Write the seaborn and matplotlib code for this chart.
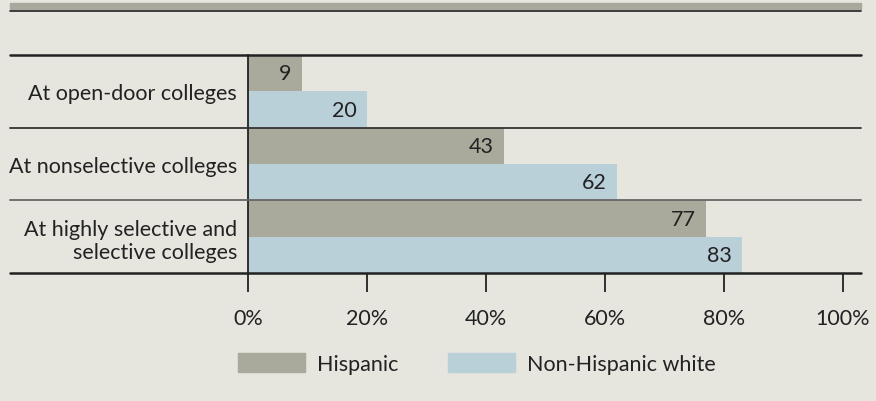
import pandas as pd
import matplotlib
matplotlib.use("Agg")
import matplotlib.pyplot as plt
import matplotlib.patches as mpatches
import seaborn as sns

# data
categories = ["At open-door colleges", "At nonselective colleges",
              "At highly selective and\nselective colleges"]
hispanic = [9, 43, 77]
nonhispanic_white = [20, 62, 83]
groups = ["Hispanic", "Non-Hispanic white"]
xticks = [0, 20, 40, 60, 80, 100]

bg = "#e6e5de"
colors = {"Hispanic": "#a9a99c", "Non-Hispanic white": "#b9d0d8"}
ink = "#222222"

df = pd.DataFrame({
    "category": categories * 2,
    "group": [groups[0]] * 3 + [groups[1]] * 3,
    "value": hispanic + nonhispanic_white,
})

sns.set_theme(style="white")
plt.rcParams["font.family"] = ["Lato", "DejaVu Sans"]

W, H = 876, 402
fig = plt.figure(figsize=(W / 100, H / 100), dpi=100, facecolor=bg)

# plot area in pixels (0% at x=248, 100% at x=843)
x0, x1, y0, y1 = 248, 861, 56, 274
ax = fig.add_axes([x0 / W, 1 - y1 / H, (x1 - x0) / W, (y1 - y0) / H])
ax.set_facecolor(bg)

sns.barplot(data=df, y="category", x="value", hue="group", orient="h",
            palette=colors, width=1.0, saturation=1, linewidth=0,
            edgecolor="none", ax=ax, legend=False)

scale = (843 - 248) / 100
ax.set_xlim(0, (x1 - x0) / scale)
ax.set_ylim(2.5, -0.5)

# value labels inside bar ends
for cont in ax.containers:
    ax.bar_label(cont, labels=[f"{v:g}" for v in cont.datavalues],
                 padding=-7.5, fontsize=15.5, color=ink)
for t in ax.texts:
    t.set_ha("right")

# separators spanning the label column
ext = (10 - x0) / (x1 - x0)
for yv, col, lw in [(-0.5, ink, 1.8), (0.5, "#333333", 1.3),
                    (1.5, "#666666", 1.3), (2.5, ink, 1.8)]:
    ax.plot([ext, 1], [yv, yv], transform=ax.get_yaxis_transform(),
            color=col, lw=lw, clip_on=False, zorder=5)

for s in ["top", "right", "bottom"]:
    ax.spines[s].set_visible(False)
ax.spines["left"].set_color(ink)
ax.spines["left"].set_linewidth(1.3)

ax.set_xticks(xticks)
ax.set_xticklabels([f"{v}%" for v in xticks], fontsize=15.5, color=ink)
ax.tick_params(axis="x", direction="out", length=14, width=1.3,
               color=ink, pad=11, bottom=True)
ax.set_yticks(range(len(categories)))
ax.set_yticklabels(categories, fontsize=15.5, color=ink)
ax.tick_params(axis="y", length=0, pad=8)
ax.set_xlabel("")
ax.set_ylabel("")

# top banner band and rule
fig.patches.append(mpatches.Rectangle((10 / W, 1 - 10 / H), (861 - 10) / W, 6 / H,
                                      transform=fig.transFigure,
                                      color="#a8a89c", zorder=0))
fig.lines.append(plt.Line2D([10 / W, 861 / W], [1 - 11.5 / H, 1 - 11.5 / H],
                            transform=fig.transFigure, color=ink, lw=1.2))

handles = [mpatches.Patch(color=colors[g], label=g) for g in groups]
fig.legend(handles=handles, loc="center", bbox_to_anchor=(477 / W, 1 - 364.5 / H),
           ncol=2, frameon=False, fontsize=15.5, handlelength=3.12,
           handleheight=0.98, handletextpad=0.56, columnspacing=2.28,
           labelcolor=ink, borderpad=0, borderaxespad=0)

fig.savefig("out.png", dpi=100, facecolor=bg)
